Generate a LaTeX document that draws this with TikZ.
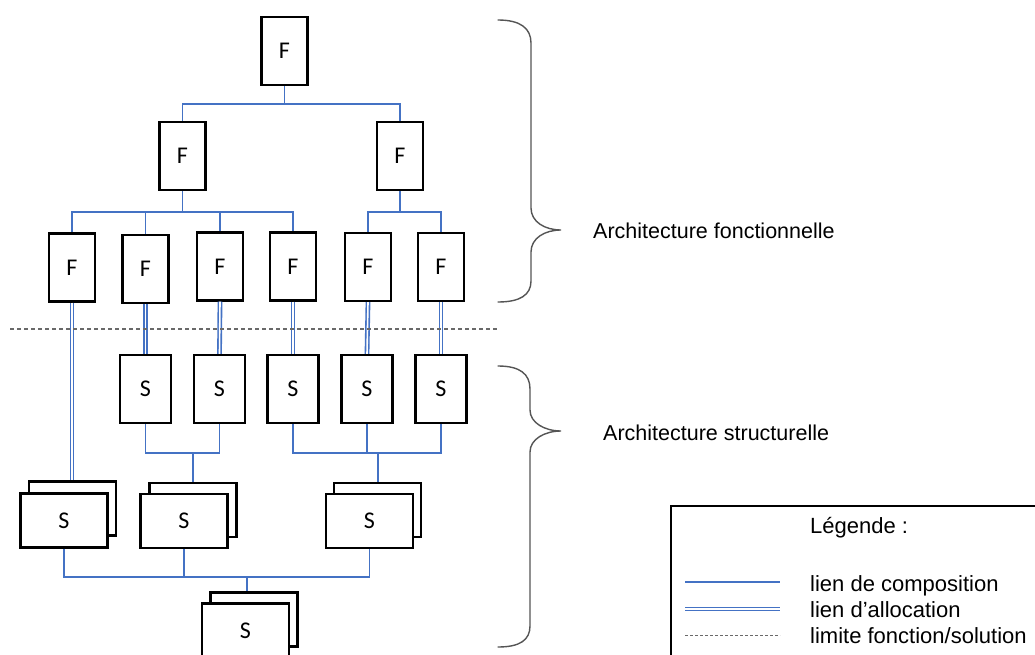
\documentclass[tikz,border=0pt]{standalone}
\usepackage{fontspec}
\setmainfont{Liberation Sans}
\newfontfamily\boxfont{Carlito}
\definecolor{linkblue}{RGB}{68,114,196}
\definecolor{limitgray}{RGB}{105,105,105}
\definecolor{bracegray}{RGB}{85,85,85}
\begin{document}
\begin{tikzpicture}[x=1pt,y=-1pt,
  box/.style={draw=black, line width=2.2pt, fill=white, inner sep=0pt,
    font=\boxfont\fontsize{24}{24}\selectfont},
  fnode/.style={box, minimum width=46pt, minimum height=68pt},
  snode/.style={box, minimum width=51pt, minimum height=68pt},
  stacknode/.style={box, minimum width=87pt, minimum height=54pt},
  comp/.style={draw=linkblue, line width=1.2pt},
  alloc/.style={draw=linkblue, line width=1.6pt, double=white, double distance=1.6pt},
  limit/.style={draw=limitgray, line width=1.1pt, dash pattern=on 4pt off 3pt},
  legtext/.style={font=\fontsize{22}{22}\selectfont, inner sep=0pt, anchor=base west},
  archtext/.style={font=\fontsize{21.5}{22}\selectfont, inner sep=0pt, anchor=base west},
  bracestyle/.style={draw=bracegray, line width=1.4pt, line cap=round}
]
\clip (0,0) rectangle (1035,655);
\fill[white] (0,0) rectangle (1035,655);

% ---------- functional architecture ----------
\node[fnode] (F0) at (284.5,51) {F};
\node[fnode] (F1) at (182.5,156) {F};
\node[fnode] (F2) at (400,156) {F};
\node[fnode] (F31) at (72,267.5) {F};
\node[fnode] (F32) at (145.5,269) {F};
\node[fnode] (F33) at (220,266.5) {F};
\node[fnode] (F34) at (293,266.5) {F};
\node[fnode] (F35) at (368,267) {F};
\node[fnode] (F36) at (441,267) {F};

% ---------- structural architecture ----------
\node[snode] (S1) at (145.5,389) {S};
\node[snode] (S2) at (219.5,389) {S};
\node[snode] (S3) at (293,389) {S};
\node[snode] (S4) at (367,389) {S};
\node[snode] (S5) at (441,389) {S};

\node[stacknode] (SS1b) at (72.5,508.5) {};
\node[stacknode] (SS1f) at (64,520.5) {S};
\node[stacknode] (SS2b) at (193,510) {};
\node[stacknode] (SS2f) at (184,521) {S};
\node[stacknode] (SS3b) at (377.5,510) {};
\node[stacknode] (SS3f) at (369.5,521) {S};
\node[stacknode] (SS4b) at (254,619.5) {};
\node[stacknode] (SS4f) at (245.5,630.5) {S};

% ---------- composition links ----------
\coordinate (j0) at (284.5,104);
\draw[comp] (F0.south) -- (j0) -| (F1.north);
\draw[comp] (j0) -| (F2.north);

\coordinate (j1) at (182.5,212);
\draw[comp] (F1.south) -- (j1) -| (F31.north);
\draw[comp] (j1) -| (F32.north);
\draw[comp] (j1) -| (F33.north);
\draw[comp] (j1) -| (F34.north);

\coordinate (j2) at (400,212);
\draw[comp] (F2.south) -- (j2) -| (F35.north);
\draw[comp] (j2) -| (F36.north);

\coordinate (j3) at (193,453);
\draw[comp] (S1.south) |- (j3);
\draw[comp] (S2.south) |- (j3);
\draw[comp] (j3) -- (j3 |- SS2b.north);

\coordinate (j4) at (378,453);
\draw[comp] (S3.south) |- (j4);
\draw[comp] (S4.south) |- (j4);
\draw[comp] (S5.south) |- (j4);
\draw[comp] (j4) -- (j4 |- SS3b.north);

\coordinate (j5) at (247,577);
\draw[comp] (SS1f.south) |- (j5);
\draw[comp] (SS2f.south) |- (j5);
\draw[comp] (SS3f.south) |- (j5);
\draw[comp] (j5) -- (j5 |- SS4b.north);

% ---------- allocation links ----------
\draw[alloc] (F31.south) -- (F31.south |- SS1b.north);
\draw[alloc] (F32.south) -- (S1.north);
\draw[alloc] (F33.south) -- (S2.north);
\draw[alloc] (F34.south) -- (S3.north);
\draw[alloc] (F35.south) -- (S4.north);
\draw[alloc] (F36.south) -- (S5.north);

% ---------- function / solution limit ----------
\coordinate (d1) at (10,329);
\coordinate (d2) at (497,329);
\draw[limit] (d1) -- (d2);

% ---------- braces ----------
\draw[bracestyle] (498,20) .. controls (520,20) and (531,28) .. (531,43)
  -- (531,208) .. controls (531,222) and (545,230) .. (561,230)
  .. controls (545,230) and (531,238) .. (531,252)
  -- (531,281) .. controls (531,295) and (520,302) .. (498,302);
\draw[bracestyle] (498,366) .. controls (520,366) and (530,374) .. (530,389)
  -- (530,410) .. controls (530,423) and (545,431) .. (561,431)
  .. controls (545,431) and (530,439) .. (530,452)
  -- (530,626) .. controls (530,640) and (520,647) .. (498,647);

\node[archtext] (AF) at (593,238) {Architecture fonctionnelle};
\node[archtext] (AS) at (603,440) {Architecture structurelle};

% ---------- legend ----------
\draw[line width=2pt] (671,506) rectangle (1050,670);
\node[legtext] (LT) at (810,533) {Légende :};
\coordinate (lc1) at (685,582);
\coordinate (lc2) at (780,582);
\draw[comp] (lc1) -- (lc2);
\node[legtext] (L1) at (810,591) {lien de composition};
\coordinate (la1) at (685,609);
\coordinate (la2) at (780,609);
\draw[alloc] (la1) -- (la2);
\node[legtext] (L2) at (810,617) {lien d’allocation};
\coordinate (ld1) at (685,635);
\coordinate (ld2) at (780,635);
\draw[limit, line width=0.8pt, dash pattern=on 3pt off 2pt] (ld1) -- (ld2);
\node[legtext] (L3) at (810,643) {limite fonction/solution};
\end{tikzpicture}
\end{document}
